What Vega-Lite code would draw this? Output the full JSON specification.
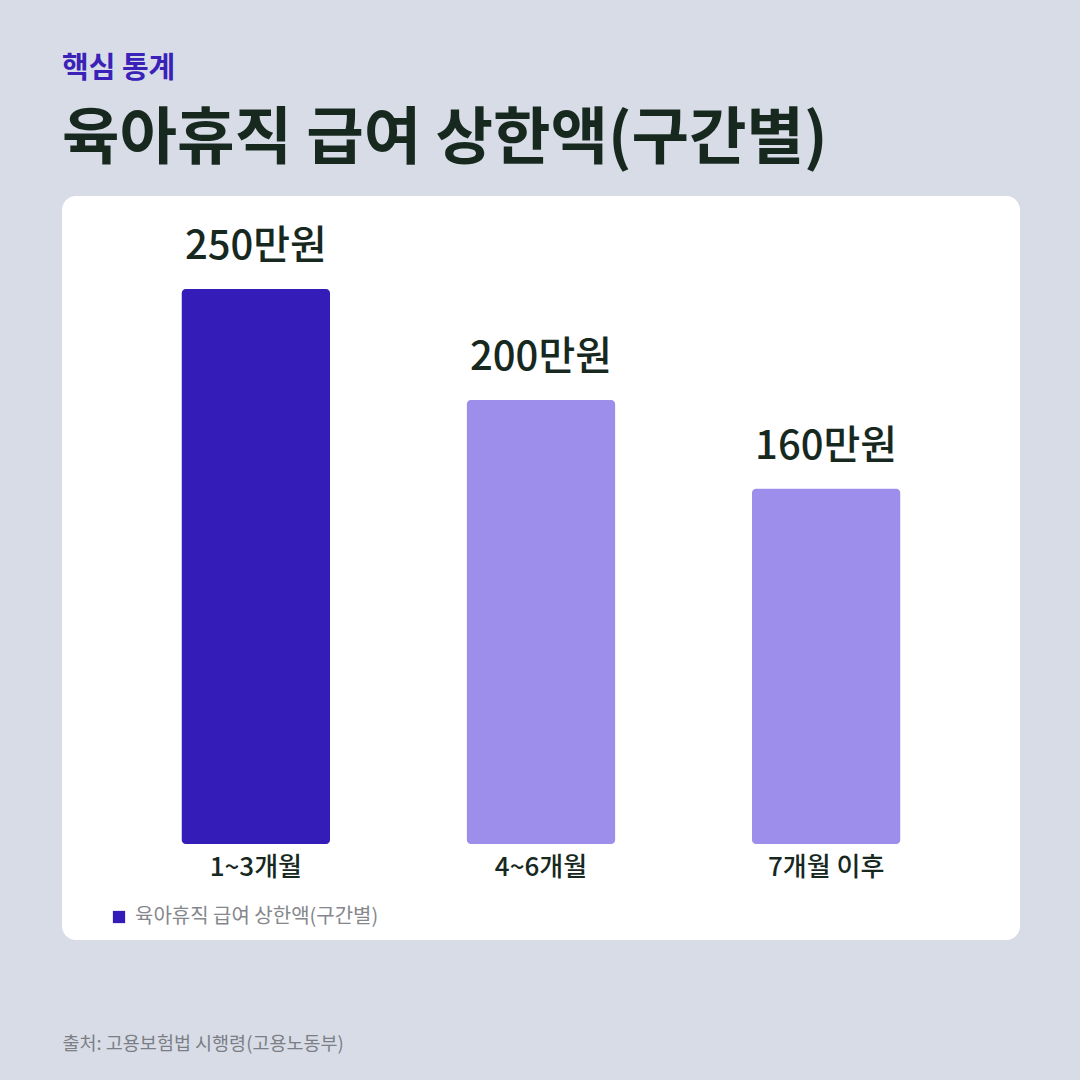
{
  "$schema": "https://vega.github.io/schema/vega-lite/v6.json",
  "width": 958,
  "height": 744,
  "autosize": "none",
  "padding": {"left": 62, "top": 196, "right": 60, "bottom": 140},
  "background": "#d8dce7",
  "config": {
    "font": "Noto Sans CJK KR",
    "view": {"fill": "white", "stroke": null, "cornerRadius": 14}
  },
  "title": {
    "text": "핵심 통계",
    "subtitle": "육아휴직 급여 상한액(구간별)",
    "anchor": "start",
    "frame": "group",
    "fontSize": 29,
    "fontWeight": "bold",
    "color": "#3a22b8",
    "subtitleFontSize": 62.5,
    "subtitleFontWeight": "bold",
    "subtitleColor": "#17291f",
    "subtitlePadding": 26,
    "offset": 25
  },
  "data": {
    "values": [
      {"구간": "1~3개월", "상한액": 250, "라벨": "250만원", "계열": "육아휴직 급여 상한액(구간별)"},
      {"구간": "4~6개월", "상한액": 200, "라벨": "200만원", "계열": "기타"},
      {"구간": "7개월 이후", "상한액": 160, "라벨": "160만원", "계열": "기타"}
    ]
  },
  "encoding": {
    "x": {
      "field": "구간",
      "type": "nominal",
      "sort": null,
      "scale": {"paddingInner": 0.48, "paddingOuter": 0.42},
      "axis": {
        "orient": "bottom",
        "offset": -96,
        "domain": false,
        "ticks": false,
        "grid": false,
        "labelAngle": 0,
        "labelPadding": 10,
        "labelFontSize": 26,
        "labelFontWeight": 500,
        "labelColor": "#17291f",
        "title": "출처: 고용보험법 시행령(고용노동부)",
        "titleFontSize": 18.5,
        "titleFontWeight": "normal",
        "titleColor": "#7b7f85",
        "titleAnchor": "start",
        "titleAlign": "left",
        "titlePadding": 154
      }
    },
    "y": {
      "field": "상한액",
      "type": "quantitative",
      "scale": {"domain": [-43.2, 291.9], "nice": false, "zero": false},
      "axis": null
    }
  },
  "layer": [
    {
      "mark": {"type": "bar", "cornerRadius": 4},
      "encoding": {
        "y2": {"datum": 0},
        "color": {
          "field": "계열",
          "type": "nominal",
          "scale": {
            "domain": ["육아휴직 급여 상한액(구간별)", "기타"],
            "range": ["#341cb8", "#9d8eeb"]
          },
          "legend": {
            "values": ["육아휴직 급여 상한액(구간별)"],
            "orient": "none",
            "legendX": 47,
            "legendY": 711,
            "title": null,
            "symbolType": "square",
            "symbolSize": 150,
            "symbolStrokeWidth": 0,
            "labelFontSize": 20,
            "labelLimit": 500,
            "labelColor": "#85878c",
            "labelOffset": 6
          }
        }
      }
    },
    {
      "mark": {
        "type": "text",
        "baseline": "bottom",
        "dy": -22,
        "fontSize": 40,
        "fontWeight": 500,
        "color": "#17291f"
      },
      "encoding": {"text": {"field": "라벨"}}
    }
  ]
}
